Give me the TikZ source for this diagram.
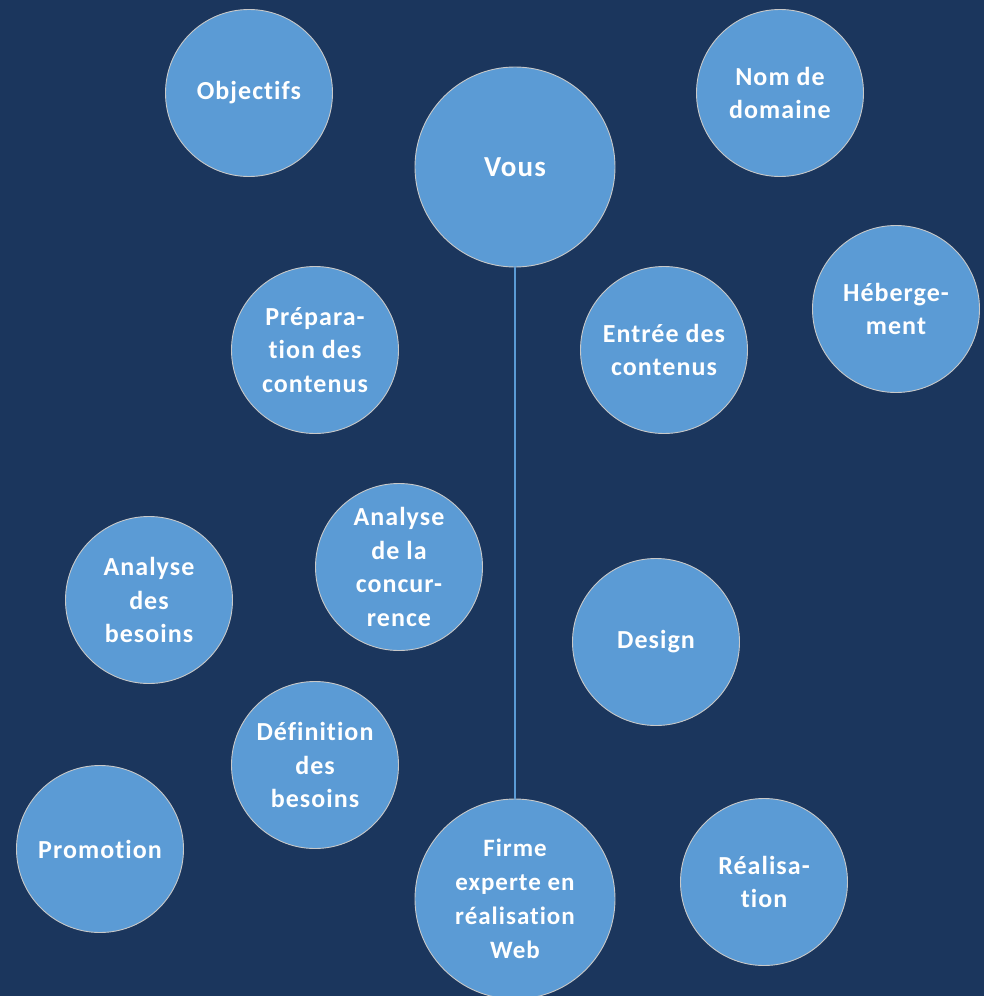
\documentclass[tikz,border=0pt]{standalone}
\usepackage{fontspec}
\setmainfont[Ligatures={NoCommon},LetterSpace=4]{Carlito}
\definecolor{bgnavy}{HTML}{1B365D}
\definecolor{bubble}{HTML}{5B9BD5}
\definecolor{rim}{HTML}{C8C8C8}
\tikzset{
  bub/.style={circle, fill=bubble, draw=rim, line width=0.9pt, inner sep=0pt,
    minimum size=167pt, align=center, text=white,
    font=\fontsize{26}{33.5}\selectfont\bfseries},
  bigbub/.style={bub, minimum size=200pt},
  link/.style={draw=bubble, line width=1.6pt}
}
\begin{document}
\begin{tikzpicture}[x=1pt,y=-1pt]
\fill[bgnavy] (0,0) rectangle (984,996);
\useasboundingbox (0,0) rectangle (984,996);
\node[bigbub, font=\fontsize{29}{34}\selectfont\bfseries] (vous) at (515,167) {Vous};
\node[bigbub, font=\fontsize{25}{34}\selectfont\bfseries] (firme) at (515,899) {Firme\\experte en\\réalisation\\Web};
\draw[link] (vous.south) -- (firme.north);
\node[bub] (obj) at (249,93) {Objectifs};
\node[bub] (nom) at (780,93) {Nom de\\domaine};
\node[bub] (heb) at (896,309) {Héberge-\\ment};
\node[bub] (prep) at (315,350) {Prépara-\\tion des\\contenus};
\node[bub] (entree) at (664,350) {Entrée des\\contenus};
\node[bub] (conc) at (399,567) {Analyse\\de la\\concur-\\rence};
\node[bub] (besoins) at (149,600) {Analyse\\des\\besoins};
\node[bub] (design) at (656,642) {Design};
\node[bub] (def) at (315,765) {Définition\\des\\besoins};
\node[bub] (promo) at (100,849) {Promotion};
\node[bub] (real) at (764,882) {Réalisa-\\tion};
\end{tikzpicture}
\end{document}
